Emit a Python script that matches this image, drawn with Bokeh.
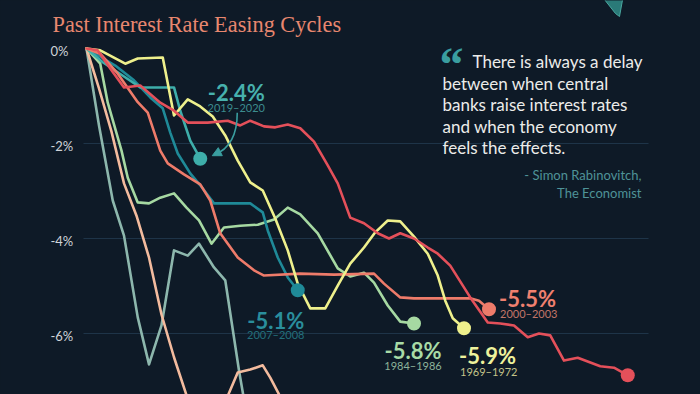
from bokeh.plotting import figure
from bokeh.models import Range1d, Grid, FixedTicker, Arrow, NormalHead
from bokeh.core.properties import value
from bokeh.embed import file_html
from bokeh.resources import INLINE

# ---------------- data (months since start of easing cycle, cumulative % change) -------------
m_red = [0, 0.9, 1.9, 3, 4.3, 5.9, 7, 8.1, 9.7, 11.3, 12.3, 13.1, 14.2, 15.1, 16.1, 17.1, 18.2, 19.3, 20.1, 21.1,
         22.2, 23.3, 24.2, 25.1, 26.2, 27.3, 28.1, 29.1, 30.7, 32.1, 33.1, 34.2, 35.3, 36.2, 37.1, 38.2, 39.3, 41.1, 42.2, 43.3]
p_red = [0, -0.04, -0.42, -0.82, -0.78, -1.14, -1.31, -1.56, -1.56, -1.52, -1.62, -1.52, -1.64, -1.66, -1.6, -1.68, -1.96, -2.46, -2.84, -3.56,
         -3.68, -3.89, -4.0, -3.89, -4.0, -4.19, -4.32, -4.57, -5.24, -5.77, -5.79, -5.83, -6.08, -6.0, -6.04, -6.57, -6.51, -6.69, -6.72, -6.88]

m_salmon = [0, 1.1, 2.5, 4.1, 4.9, 5.9, 6.5, 7.8, 9.1, 9.9, 10.7, 12.1, 13.4, 14.2, 17.1, 19.8, 23.0, 23.8, 25.1, 26.2, 29.1, 30.7, 31.4, 32.2]
p_salmon = [0, -0.11, -0.53, -1.13, -1.35, -2.15, -2.42, -2.65, -2.86, -3.2, -3.89, -4.4, -4.67, -4.78, -4.74, -4.76, -4.74, -4.95, -5.24, -5.26, -5.26, -5.26, -5.31, -5.49]

m_yellow = [0, 1.1, 3.1, 4.1, 6.1, 7.0, 8.1, 9.1, 10.1, 11.1, 12.1, 13.1, 14.1, 15.1, 16.1, 16.9, 17.9, 19.1, 20.1, 21.1,
            22.2, 23.1, 24.1, 25.1, 26.2, 27.3, 28.1, 28.7, 29.3, 30.2]
p_yellow = [0, -0.04, -0.32, -0.21, -0.19, -1.41, -1.07, -1.22, -1.43, -1.83, -2.36, -2.82, -2.99, -3.58, -4.25, -4.95, -5.47, -5.47, -4.99, -4.53,
            -4.19, -3.87, -3.62, -3.64, -3.96, -4.32, -4.78, -5.31, -5.68, -5.89]

m_lgreen = [0, 1.1, 1.7, 2.8, 3.3, 4.1, 5.0, 5.9, 7.0, 8.0, 9.0, 10.0, 11.0, 12.3, 13.7, 15.0, 16.1, 17.1, 18.5, 20.1, 21.1, 22.2, 23.0, 24.1, 25.1, 26.2]
p_lgreen = [0, -0.32, -1.14, -2.15, -2.72, -3.24, -3.26, -3.14, -3.05, -3.35, -3.62, -4.11, -3.77, -3.73, -3.71, -3.6, -3.35, -3.49, -3.89, -4.63,
            -4.8, -4.72, -4.93, -5.41, -5.75, -5.79]

m_dteal = [0, 2.3, 3.8, 5.1, 6.1, 6.7, 7.3, 8.3, 9.1, 10.2, 13.1, 14.1, 14.5, 15.3, 16.1, 16.9]
p_dteal = [0, -0.36, -0.67, -1.03, -1.26, -1.77, -2.21, -2.63, -2.88, -3.26, -3.26, -3.45, -3.83, -4.4, -4.82, -5.09]

m_lteal = [0, 1.3, 3.0, 4.3, 7.0, 7.5, 8.3, 9.1]
p_lteal = [0, -0.29, -0.59, -0.82, -0.82, -1.31, -1.94, -2.32]

m_gteal = [0, 1.0, 2.1, 3.0, 4.1, 5.0, 6.0, 7.0, 8.1, 9.0, 10.2, 11.1, 12.2, 13.2]
p_gteal = [0, -1.62, -3.2, -3.94, -5.66, -6.65, -5.83, -4.25, -4.36, -4.11, -4.61, -4.88, -6.78, -8.3]

m_peach = [0, 1, 2, 3, 4, 5, 6, 7, 8, 9, 10, 11, 12.1, 13.1, 14.1, 14.7, 15.4, 16.3]
p_peach = [0, -0.84, -1.75, -2.84, -3.52, -4.4, -5.6, -6.5, -7.3, -7.9, -8.1, -7.5, -6.82, -6.76, -6.67, -6.93, -7.28, -8.0]

cycle_years = ["2019–2020", "2007–2008", "1984–1986", "1969–1972", "2000–2003"]
cycle_labels = ["-2.4%", "-5.1%", "-5.8%", "-5.9%", "-5.5%", "-6.9%"]

tick_values = [0, -2, -4, -6]
tick_labels = ["0%", "-2%", "-4%", "-6%"]
grid_values = [-2, -4, -6]

title_text = "Past Interest Rate Easing Cycles"
quote_lines = ["There is always a delay", "between when central", "banks raise interest rates",
               "and when the economy", "feels the effects."]
source_lines = ["- Simon Rabinovitch,", "The Economist"]

# ---------------- style ----------------
BG = "#0e1a27"
GRID = "#1e3448"
RED = "#e4505a"
SALMON = "#ee7b6a"
YELLOW = "#eef08c"
LGREEN = "#a6d9a2"
DTEAL = "#1f8a98"
LTEAL = "#3eaeaa"
GTEAL = "#8db7ad"
PEACH = "#f3bb9e"

PXX = 12.5   # pixels per month
PXY = 47.5   # pixels per percentage point
W, H = 700, 394
X0 = -86 / PXX
Y1 = 48 / PXY

def sx(px):   # canvas pixel -> data x (layout helper for text placement)
    return X0 + px / PXX

def sy(py):
    return Y1 - py / PXY

p = figure(width=W, height=H, x_range=Range1d(X0, X0 + W / PXX), y_range=Range1d(Y1 - H / PXY, Y1),
           output_backend="svg", toolbar_location=None, x_axis_location=None, y_axis_location=None,
           min_border=0, background_fill_color=BG, border_fill_color=BG, outline_line_color=None)
p.center = [r for r in p.center if not isinstance(r, Grid)]

g = Grid(dimension=1, ticker=FixedTicker(ticks=grid_values), grid_line_color=GRID, grid_line_width=1)
if "cross_bounds" in Grid.properties():
    g.cross_bounds = (sx(83), sx(648))
    p.add_layout(g)
else:
    p.segment(x0=[sx(83)] * len(grid_values), x1=[sx(648)] * len(grid_values), y0=grid_values, y1=grid_values,
              line_color=GRID, line_width=1)

# y tick labels
p.text(x=[sx(50)] * len(tick_values), y=tick_values, text=tick_labels, text_font=value("Lato"),
       text_font_size="13px", text_color="#cfd3d8", text_align="left", text_baseline="middle", y_offset=2)

# lines
for xs, ys, c in [(m_gteal, p_gteal, GTEAL), (m_peach, p_peach, PEACH), (m_lgreen, p_lgreen, LGREEN),
                  (m_dteal, p_dteal, DTEAL), (m_lteal, p_lteal, LTEAL), (m_salmon, p_salmon, SALMON),
                  (m_yellow, p_yellow, YELLOW), (m_red, p_red, RED)]:
    p.line(xs, ys, line_color=c, line_width=2.6, line_join="round", line_cap="round")

# end dots
ends = [(m_lteal, p_lteal, LTEAL), (m_dteal, p_dteal, DTEAL), (m_lgreen, p_lgreen, LGREEN),
        (m_yellow, p_yellow, YELLOW), (m_salmon, p_salmon, SALMON), (m_red, p_red, RED)]
p.scatter(x=[e[0][-1] for e in ends], y=[e[1][-1] for e in ends], size=14,
          fill_color=[e[2] for e in ends], line_color=None)

# labels: (align, x_off, pct y_off, year y_off, pct color, year color)
lab_style = [("center", 36, -66, -51, "#47b1ad", "#3c8c8e"),
             ("center", -22, 30, 44, "#2a8e9c", "#236f7b"),
             ("center", -1, 27, 42, "#a8dba6", "#8db39a"),
             ("left", -5, 27, 43, "#eef29c", "#c4c489"),
             ("left", 10, -11, 4, "#f0806f", "#c27568")]
for (xs, ys, _), pl, yr, st in zip(ends[:5], cycle_labels, cycle_years, lab_style):
    al, xo, yo1, yo2, c1, c2 = st
    p.text(x=[xs[-1]], y=[ys[-1]], text=[pl], x_offset=xo, y_offset=yo1, text_font=value("Lato"),
           text_font_style="bold", text_font_size="22px", text_color=c1, text_align=al, text_baseline="alphabetic")
    p.text(x=[xs[-1]], y=[ys[-1]], text=[yr], x_offset=xo + (1 if al == "left" else 0), y_offset=yo2,
           text_font=value("Lato"), text_font_size="11px", text_color=c2, text_align=al, text_baseline="alphabetic")
# red cycle label (partly below the visible area, as in the source)
p.text(x=[m_red[-1]], y=[p_red[-1]], text=[cycle_labels[5]], x_offset=-58, y_offset=29, text_font=value("Lato"),
       text_font_style="bold", text_font_size="22px", text_color="#e6505a", text_align="left",
       text_baseline="alphabetic")

# arrow for 2019-2020
dx, dy = m_lteal[-1], p_lteal[-1]
def ox(o): return dx + o / PXX
def oy(o): return dy - o / PXY
p.bezier(x0=[ox(37)], y0=[oy(-46)], x1=[ox(14)], y1=[oy(-4)], cx0=[ox(37)], cy0=[oy(-24)],
         cx1=[ox(30)], cy1=[oy(-10)], line_color="#3a9ea0", line_width=1.6)
p.add_layout(Arrow(end=NormalHead(size=9, fill_color="#3a9ea0", line_color="#3a9ea0"),
                   x_start=ox(20), y_start=oy(-7), x_end=ox(12), y_end=oy(-3),
                   line_color="#3a9ea0", line_width=1.6))

# title
p.text(x=[sx(52)], y=[sy(24)], text=[title_text], text_font=value("Liberation Serif"), text_font_size="22.3px",
       text_color="#e8876f", text_align="left", text_baseline="alphabetic")

# quote
p.text(x=[sx(439)], y=[sy(64)], text=["\u201c"], text_font=value("Liberation Serif"), text_font_style="bold",
       text_font_size="48px", text_color="#3a9ea0", text_align="left", text_baseline="alphabetic")
qx = [sx(472)] + [sx(442)] * (len(quote_lines) - 1)
p.text(x=qx, y=[sy(61)] * len(quote_lines), text=quote_lines, y_offset=[i * 21.5 for i in range(len(quote_lines))],
       text_font=value("Lato"), text_font_size="17px", text_color="#ececea", text_align="left",
       text_baseline="alphabetic")
p.text(x=[sx(641)] * 2, y=[sy(174)] * 2, text=source_lines, y_offset=[0, 18], text_font=value("Lato"),
       text_font_size="13px", text_color="#4f9398", text_align="right", text_baseline="alphabetic")

# corner decoration
p.patch(x=[sx(600), sx(615), sx(619), sx(623)], y=[sy(-6), sy(13), sy(16), sy(-6)],
        fill_color="#2a7a78", line_color="#4aa8a0", line_width=1)

html = file_html(p, INLINE)
html = html.replace("</head>", "<style>html,body{background:%s;}</style></head>" % BG)
open("out.html", "w").write(html)
